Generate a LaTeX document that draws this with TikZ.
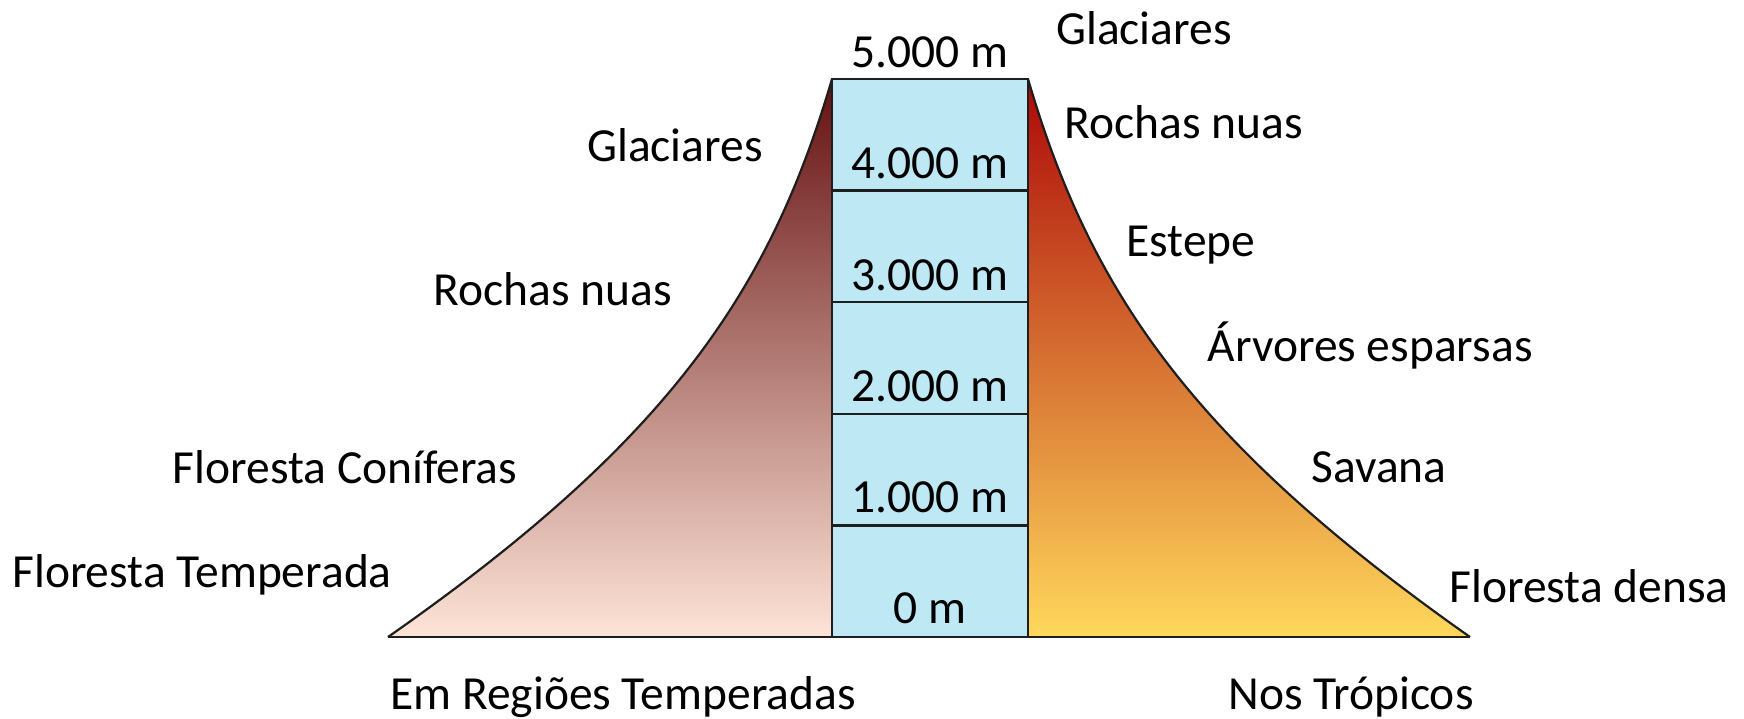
\documentclass[tikz,border=0pt]{standalone}
\usepackage{fontspec}
\setmainfont{Carlito}
\usetikzlibrary{positioning}
\definecolor{boxblue}{RGB}{190,232,244}
\definecolor{tempTop}{RGB}{100,16,16}
\definecolor{tempMid}{RGB}{198,128,118}
\definecolor{tempBot}{RGB}{254,228,216}
\definecolor{tropTop}{RGB}{172,8,8}
\definecolor{tropMid}{RGB}{230,120,46}
\definecolor{tropBot}{RGB}{255,216,92}
\definecolor{edge}{RGB}{30,30,30}
\tikzset{%
	zone label/.style={
		font=\fontsize{47.5}{54}\selectfont,
		inner sep=0pt
	},
	altitude/.style={
		zone label
	},
}

\begin{document}
\begin{tikzpicture}[x=1pt,y=-1pt]
		\useasboundingbox (0,0) rectangle (1744,719);
		
		% Left slope (temperate regions)
		\shade[top color=tempTop, middle color=tempMid, bottom color=tempBot]
			(832,637) -- (388,637) .. controls (670,440) and (770,290) .. (832,79) -- cycle;
		\draw[edge, line width=2.2pt] (388,637) .. controls (670,440) and (770,290) .. (832,79);
		
		% Right slope (tropics)
		\shade[top color=tropTop, middle color=tropMid, bottom color=tropBot]
			(1028,637) -- (1470,637) .. controls (1190,440) and (1090,290) .. (1028,79) -- cycle;
		\draw[edge, line width=2.2pt] (1470,637) .. controls (1190,440) and (1090,290) .. (1028,79);
		
		% Base line
		\draw[edge, line width=2.4pt] (388,637) -- (1470,637);
		
		% Altitude column
		\fill[boxblue] (832,79) rectangle (1028,637);
		\foreach \y in {190.6,302.2,413.8,525.4}
			\draw[edge, line width=2.2pt] (832,\y) -- (1028,\y);
		\draw[edge, line width=2.6pt] (832,79) rectangle (1028,637);
		
		% Altitudes
		\node[altitude] (a5) at (930,52) {5.000 m};
		\node[altitude] (a4) at (930,163) {4.000 m};
		\node[altitude] (a3) at (930,275) {3.000 m};
		\node[altitude] (a2) at (930,386) {2.000 m};
		\node[altitude] (a1) at (930,497) {1.000 m};
		\node[altitude] (a0) at (930,608) {0 m};
		
		% Temperate zones
		\node[zone label] (tGlac) at (675,145) {Glaciares};
		\node[zone label] (tRoch) at (553,289) {Rochas nuas};
		\node[zone label] (tConi) at (345,467) {Floresta Coníferas};
		\node[zone label] (tTemp) at (202,575) {Floresta Temperada};
		\node[zone label] (tTitle) at (623,697) {Em Regiões Temperadas};
		
		% Tropical zones
		\node[zone label] (pGlac) at (1144,28) {Glaciares};
		\node[zone label] (pRoch) at (1184,122) {Rochas nuas};
		\node[zone label] (pEste) at (1191,245) {Estepe};
		\node[zone label] (pArvo) at (1370,345) {Árvores esparsas};
		\node[zone label] (pSava) at (1379,467) {Savana};
		\node[zone label] (pDens) at (1589,586) {Floresta densa};
		\node[zone label] (pTitle) at (1351,697) {Nos Trópicos};
	\end{tikzpicture}
\end{document}
